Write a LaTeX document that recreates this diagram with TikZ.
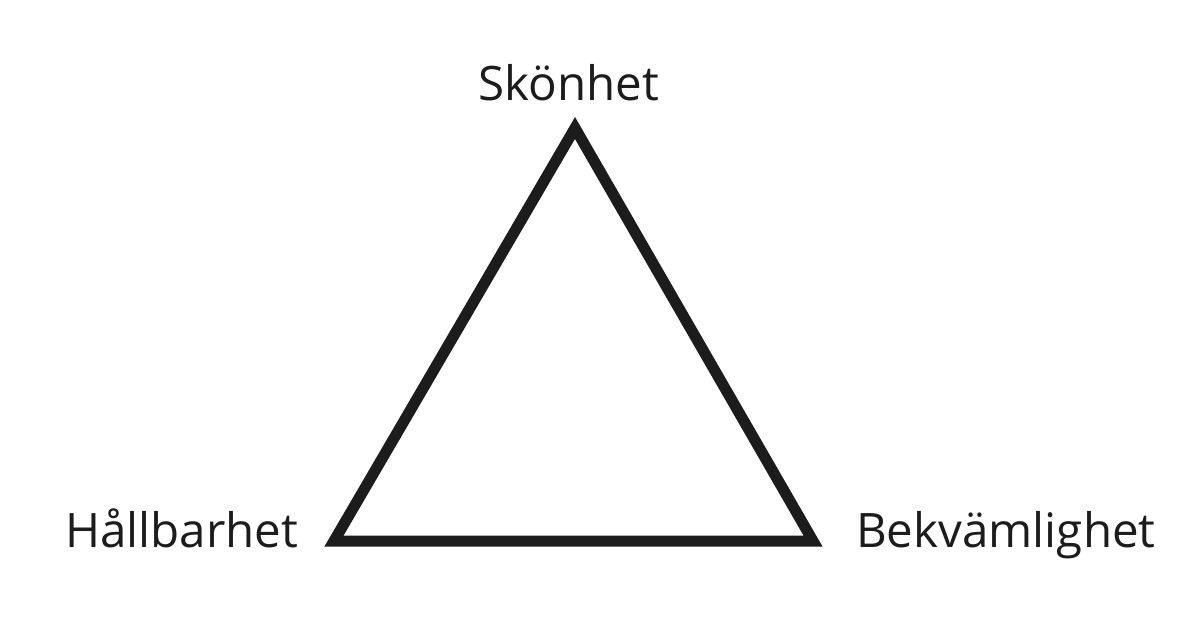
\documentclass[tikz,border=0pt]{standalone}
\usepackage{fontspec}
\setmainfont{Open Sans}
\definecolor{ink}{HTML}{1C1C1C}
\begin{document}
\begin{tikzpicture}[x=1pt,y=-1pt,
  lbl/.style={text=ink,font=\fontsize{47.5}{56}\selectfont,inner sep=0pt},
  edge/.style={draw=ink,line width=11pt,line join=miter,miter limit=10}]
\useasboundingbox[fill=white] (0,0) rectangle (1200,630);
\coordinate (T) at (575,128);
\coordinate (L) at (334,541);
\coordinate (R) at (813,541);
\draw[edge] (T) -- (L) -- (R) -- cycle;
\node[lbl,anchor=base] (s) at (569,100) {Skönhet};
\node[lbl,anchor=base west] (h) at (65,547) {Hållbarhet};
\node[lbl,anchor=base west] (b) at (856,547) {Bekvämlighet};
\end{tikzpicture}
\end{document}
